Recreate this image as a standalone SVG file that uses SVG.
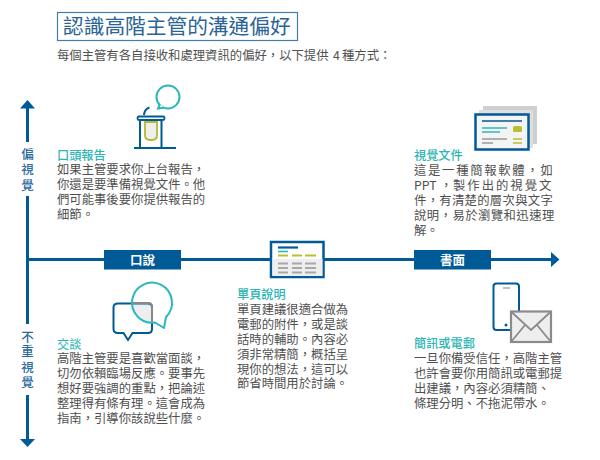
<svg xmlns="http://www.w3.org/2000/svg" width="600" height="460" viewBox="0 0 600 460">
<style>
text{font-family:"Noto Sans CJK TC","Noto Sans",sans-serif}
.b{font-size:12.35px;fill:#505050}
.h{font-size:12.2px;fill:#2bb5b5;font-weight:500}
.v{font-size:12.5px;fill:#2a6a9c;font-weight:500;text-anchor:middle}
.tag{font-size:12.5px;fill:#fff;font-weight:700;text-anchor:middle}
.ax{stroke:#005a96;stroke-width:3;fill:none}
.head{fill:#005a96}
.bar{fill:#005a96}
.nv{fill:none;stroke:#005a96;stroke-width:2}
.te{fill:none;stroke:#2bb8bc;stroke-width:2}
.l{stroke-width:1.6;fill:none}
</style>
<rect width="600" height="460" fill="#fff"/>
<g id="title">
<rect x="57.5" y="12.5" width="240" height="28" fill="#fff" stroke="#3f7fae" stroke-width="1.2"/>
<text x="63" y="34" font-size="20.7" fill="#2a6496" style="font-family:'Noto Sans CJK TC',serif">認識高階主管的溝通偏好</text>
<text class="b" y="60"><tspan x="57">每個主管有各自接收和處理資訊的偏好，以下提供</tspan><tspan x="333">4</tspan><tspan x="342">種方式：</tspan></text>
</g>
<g id="connectors">
<path class="ax" d="M27.5 142V108M27.5 196V324M27.5 395V439M27 259.5H552"/>
<path class="head" d="M27.5 100L35 108.500H20ZM27.500 447L20 439H35ZM559.500 259.500L551 252V267Z"/>
</g>
<g id="axis-labels">
<text class="v"><tspan x="27.500" y="159">偏</tspan><tspan x="27.500" y="174">視</tspan><tspan x="27.500" y="190">覺</tspan></text>
<text class="v"><tspan x="27.500" y="342">不</tspan><tspan x="27.500" y="356">重</tspan><tspan x="27.500" y="372">視</tspan><tspan x="27.500" y="387">覺</tspan></text>
</g>
<g id="tag-oral">
<rect class="bar" x="104" y="250" width="77" height="19.500"/>
<text class="tag" x="142.500" y="264.500">口說</text>
</g>
<g id="tag-written">
<rect class="bar" x="414" y="250" width="77" height="19.500"/>
<text class="tag" x="452.500" y="264.500">書面</text>
</g>
<g id="node-oral-report">
<circle class="te" cx="168" cy="97" r="11.500"/>
<path d="M160 104L158 108.500L164 107.800" fill="#fff" stroke="#2bb8bc" stroke-width="2"/>
<path d="M160.500 102L163 106L166 104Z" fill="#fff"/>
<path d="M145 122H157V135Q157 140 152 140H150Q145 140 145 135Z" fill="#eee" stroke="#b5b92e" stroke-width="1.800"/>
<path class="nv" d="M134 148H176M140 120V148M161.500 120V148"/>
<rect x="137.500" y="116.500" width="27" height="3.500" rx="1.500" fill="none" stroke="#005a96" stroke-width="1.800"/>
<path class="nv" d="M144 115Q144.500 109 149.500 107.500"/>
<text class="b"><tspan class="h" x="57" y="160">口頭報告</tspan><tspan x="57" y="173.500">如果主管要求你上台報告，</tspan><tspan x="57" y="189">你還是要準備視覺文件。他</tspan><tspan x="57" y="204">們可能事後要你提供報告的</tspan><tspan x="57" y="219">細節。</tspan></text>
</g>
<g id="node-visual-doc">
<rect x="483" y="106" width="54" height="38" fill="#cfcfcf"/>
<rect x="479" y="110" width="54" height="38" fill="#dedede"/>
<rect x="475.500" y="114.500" width="53" height="35" fill="#f4f4f4" stroke="#005a96" stroke-width="2.500"/>
<path class="l" stroke="#005a96" d="M482 121H522"/>
<path class="l" stroke="#2bb8bc" d="M482 128H507M482 132H500"/>
<path class="l" stroke="#999" d="M482 139H507M482 143H493"/>
<rect x="513" y="126" width="9" height="6" rx="1.500" fill="#b9bf2f"/>
<path class="l" stroke="#b9bf2f" d="M513 139H522M513 143H522"/>
<text class="b"><tspan class="h" x="414" y="160">視覺文件</tspan><tspan x="414" y="175" letter-spacing="1.700">這是一種簡報軟體，如</tspan><tspan x="414" y="190">PPT</tspan><tspan x="440" y="190">，</tspan><tspan x="453" y="190" letter-spacing="2">製作出的視覺文</tspan><tspan x="414" y="205" letter-spacing="0.300">件，有清楚的層次與文字</tspan><tspan x="414" y="220" letter-spacing="0.450">說明，易於瀏覽和迅速理</tspan><tspan x="414" y="235">解。</tspan></text>
</g>
<g id="node-one-page">
<rect x="271" y="242" width="52.500" height="35" fill="#fff" stroke="#005a96" stroke-width="2.500"/>
<rect x="272.500" y="259" width="50" height="17" fill="#eee"/>
<path d="M278 247.500H298" stroke="#005a96" stroke-width="2.200"/>
<path class="l" stroke="#2bb8bc" d="M278 251.500H288"/>
<path d="M278 255.500H288M292 255.500H302M305 255.500H316" stroke="#b9bf2f" stroke-width="2"/>
<path d="M278 263.500H288M292 263.500H302M305 263.500H316M278 268H288M292 268H302M305 268H316M278 272.500H288M292 272.500H302M305 272.500H316" stroke="#a8a8a8" stroke-width="1.800"/>
<text class="b"><tspan class="h" x="237" y="299">單頁說明</tspan><tspan x="237" y="314">單頁建議很適合做為</tspan><tspan x="237" y="329">電郵的附件，或是談</tspan><tspan x="237" y="344">話時的輔助。內容必</tspan><tspan x="237" y="359">須非常精簡，概括呈</tspan><tspan x="237" y="373.500">現你的想法，這可以</tspan><tspan x="237" y="388">節省時間用於討論。</tspan></text>
</g>
<g id="node-conversation">
<path d="M132.500 303H149Q152 303 152 306V323.500L132.500 313Z" fill="#eee"/>
<path d="M118 303.500H148Q152 303.500 152 307.500V329Q152 333 148 333H132.500L128 340L123.500 333H118Q113.500 333 113.500 329V307.500Q113.500 303.500 118 303.500Z" fill="none" stroke="#005a96" stroke-width="2"/>
<path d="M132.500 303H148Q152 303 152 307V323" fill="none" stroke="#888" stroke-width="2"/>
<path d="M155 322.500A20 20 0 1 1 166 317L164 328Z" fill="none" stroke="#2bb8bc" stroke-width="2" stroke-linejoin="round"/>
<text class="b"><tspan class="h" x="57" y="349" style="font-weight:400">交談</tspan><tspan x="57" y="363">高階主管要是喜歡當面談，</tspan><tspan x="57" y="378">切勿依賴臨場反應。要事先</tspan><tspan x="57" y="393">想好要強調的重點，把論述</tspan><tspan x="57" y="408">整理得有條有理。這會成為</tspan><tspan x="57" y="423">指南，引導你該說些什麼。</tspan></text>
</g>
<g id="node-message">
<rect x="493.500" y="283.500" width="25.500" height="46.500" rx="3" fill="#fff" stroke="#005a96" stroke-width="2"/>
<path d="M503 288H510" stroke="#a8a8a8" stroke-width="1.500"/>
<circle cx="506" cy="325" r="1.500" fill="#005a96"/>
<rect x="511" y="311.500" width="40" height="30.500" fill="#eee" stroke="#8a8a8a" stroke-width="2.200"/>
<path d="M511 311.500L531 330L551 311.500M511 342L525 325M551 342L537 325" fill="none" stroke="#8a8a8a" stroke-width="1.800"/>
<text class="b"><tspan class="h" x="414" y="348">簡訊或電郵</tspan><tspan x="414" y="363">一旦你備受信任，高階主管</tspan><tspan x="414" y="378">也許會要你用簡訊或電郵提</tspan><tspan x="414" y="393">出建議，內容必須精簡、</tspan><tspan x="414" y="408">條理分明、不拖泥帶水。</tspan></text>
</g>
</svg>
